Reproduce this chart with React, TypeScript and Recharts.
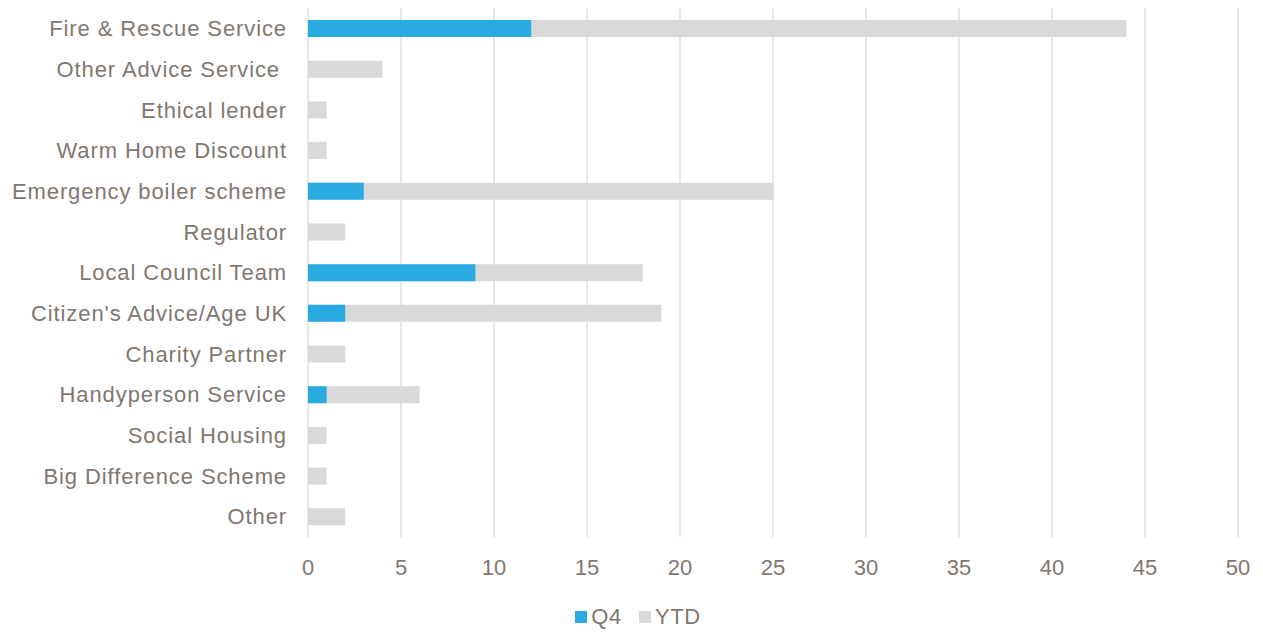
import { BarChart, Bar, XAxis, YAxis, CartesianGrid, Legend } from "recharts";

const categories = [
  "Fire & Rescue Service",
  "Other Advice Service\u00a0",
  "Ethical lender",
  "Warm Home Discount",
  "Emergency boiler scheme",
  "Regulator",
  "Local Council Team",
  "Citizen's Advice/Age UK",
  "Charity Partner",
  "Handyperson Service",
  "Social Housing",
  "Big Difference Scheme",
  "Other",
];
const q4Values = [12, 0, 0, 0, 3, 0, 9, 2, 0, 1, 0, 0, 0];
const ytdValues = [44, 4, 1, 1, 25, 2, 18, 19, 2, 6, 1, 1, 2];
const xTicks = [0, 5, 10, 15, 20, 25, 30, 35, 40, 45, 50];

const data = categories.map((name, i) => ({ name, q4: q4Values[i], ytd: ytdValues[i] }));

const TEXT = "#7f7770";
const BLUE = "#29abe2";
const GREY = "#d9d9d9";
const FONT = "'Liberation Sans', Arial, sans-serif";

const LegendBox = () => (
  <div
    style={{
      display: "flex",
      justifyContent: "center",
      alignItems: "center",
      paddingLeft: 38,
      fontFamily: FONT,
      fontSize: 22,
      letterSpacing: 0.6,
      color: TEXT,
      lineHeight: "24px",
    }}
  >
    <span style={{ width: 12, height: 12, background: BLUE, marginRight: 4 }} />
    <span style={{ marginRight: 17 }}>Q4</span>
    <span style={{ width: 12, height: 12, background: GREY, marginRight: 4 }} />
    <span>YTD</span>
  </div>
);

export default function App() {
  return (
    <div style={{ position: "absolute", left: 0, top: 0, background: "#fff" }}>
      <BarChart
        width={1263}
        height={633}
        data={data}
        layout="vertical"
        margin={{ top: 8, right: 25, left: 0, bottom: 4 }}
        barGap={-17}
      >
        <CartesianGrid horizontal={false} stroke="#e0dcd8" strokeWidth={1.5} />
        <XAxis
          type="number"
          domain={[0, 50]}
          ticks={xTicks}
          axisLine={false}
          tickLine={false}
          tickSize={12}
          tickMargin={10}
          height={68}
          interval={0}
          tick={{ fill: TEXT, fontSize: 22, fontFamily: FONT }}
        />
        <YAxis
          type="category"
          dataKey="name"
          width={308}
          axisLine={false}
          tickLine={false}
          tickSize={20}
          tickMargin={1}
          interval={0}
          tick={{ fill: TEXT, fontSize: 22, fontFamily: FONT, letterSpacing: 0.9 }}
        />
        <Legend verticalAlign="bottom" height={24} content={<LegendBox />} />
        <Bar dataKey="ytd" name="YTD" fill={GREY} barSize={17} isAnimationActive={false} />
        <Bar dataKey="q4" name="Q4" fill={BLUE} barSize={17} isAnimationActive={false} />
      </BarChart>
    </div>
  );
}
